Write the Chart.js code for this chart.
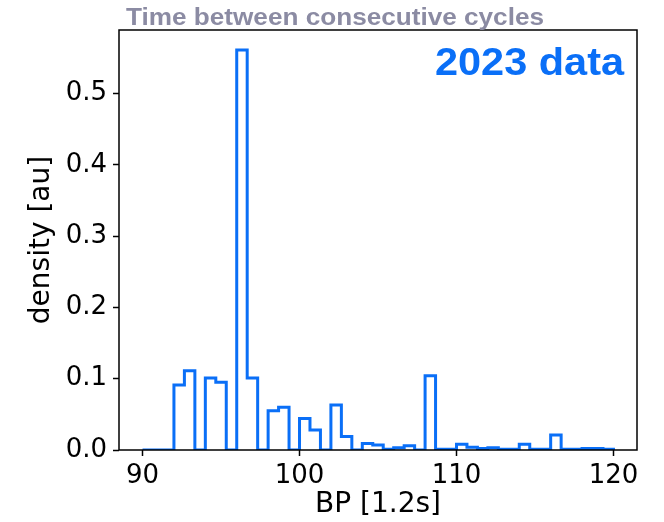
<!DOCTYPE html>
<html>
<head>
<meta charset="utf-8">
<script src="https://cdn.jsdelivr.net/npm/chart.js@4"></script>
<style>
  html, body { margin: 0; padding: 0; background: #fff; }
  #wrap { width: 664px; height: 522px; }
</style>
</head>
<body>
<div id="wrap"><canvas id="histChart" width="664" height="522"></canvas></div>
<script>
// histogram spec: 45 bins between 90 and 120
const binStart = 90;
const binEnd = 120;
const binCount = 45;
const densityValues = [
  0, 0, 0, 0.091, 0.111, 0, 0.101, 0.095, 0, 0.561,
  0.101, 0, 0.055, 0.060, 0, 0.044, 0.028, 0, 0.063, 0.019,
  0, 0.009, 0.007, 0.001, 0.003, 0.006, 0, 0.104, 0.001, 0.001,
  0.008, 0.004, 0.002, 0.003, 0.001, 0.001, 0.008, 0.001, 0.001, 0.021,
  0.001, 0.001, 0.002, 0.002, 0.001
];
const xTicks = [90, 100, 110, 120];
const yTicks = [0.0, 0.1, 0.2, 0.3, 0.4, 0.5];
const titleText = 'Time between consecutive cycles';
const tagText = '2023 data';

const blue = '#0a6ff7';

// step outline points (left bin edge, value), closed down to 0 at the end
const binWidth = (binEnd - binStart) / binCount;
const stepPoints = [{ x: binStart, y: 0 }];
densityValues.forEach((v, i) => stepPoints.push({ x: binStart + i * binWidth, y: v }));
stepPoints.push({ x: binEnd, y: 0 });

// frame + overlay texts
const framePlugin = {
  id: 'frame',
  afterDatasetsDraw(chart) {
    const { ctx, chartArea: a } = chart;
    ctx.save();
    ctx.strokeStyle = '#000';
    ctx.lineWidth = 1.5;
    ctx.strokeRect(a.left, a.top, a.right - a.left, a.bottom - a.top);
    ctx.restore();
  },
  afterDraw(chart) {
    const { ctx } = chart;
    ctx.save();
    // gray heading, slightly stretched like the source
    ctx.font = 'bold 23px "Liberation Sans", Arial, sans-serif';
    ctx.fillStyle = '#8b8ba3';
    ctx.textBaseline = 'alphabetic';
    let w = ctx.measureText(titleText).width;
    ctx.translate(126, 25);
    ctx.scale(418 / w, 1);
    ctx.fillText(titleText, 0, 0);
    ctx.restore();

    ctx.save();
    ctx.font = 'bold 39px "Liberation Sans", Arial, sans-serif';
    ctx.fillStyle = blue;
    w = ctx.measureText(tagText).width;
    ctx.translate(435, 75);
    ctx.scale(189 / w, 1);
    ctx.fillText(tagText, 0, 0);
    ctx.restore();
  }
};

const ctx = document.getElementById('histChart').getContext('2d');
const histChart = new Chart(ctx, {
  type: 'line',
  data: {
    datasets: [{
      data: stepPoints,
      stepped: 'before',
      borderColor: blue,
      borderWidth: 3,
      pointRadius: 0,
      fill: false
    }]
  },
  options: {
    responsive: false,
    animation: false,
    events: [],
    layout: { padding: { left: 0, right: 27, top: 30, bottom: 0 } },
    plugins: { legend: { display: false }, tooltip: { enabled: false } },
    scales: {
      x: {
        type: 'linear',
        min: 88.5,
        max: 121.5,
        afterBuildTicks: s => { s.ticks = xTicks.map(v => ({ value: v })); },
        afterFit: s => { s.height = 72; },
        border: { display: false },
        grid: { drawOnChartArea: false, tickLength: 6, tickColor: '#000', tickWidth: 1.5 },
        ticks: {
          color: '#000',
          padding: 5,
          maxRotation: 0,
          font: { family: '"DejaVu Sans"', size: 26 },
          callback: v => String(v)
        },
        title: {
          display: true,
          text: 'BP [1.2s]',
          color: '#000',
          font: { family: '"DejaVu Sans"', size: 28 },
          padding: { top: 0, bottom: 0 }
        }
      },
      y: {
        min: 0,
        max: 0.589,
        afterBuildTicks: s => { s.ticks = yTicks.map(v => ({ value: v })); },
        afterFit: s => { s.width = 119; },
        border: { display: false },
        grid: { drawOnChartArea: false, tickLength: 6, tickColor: '#000', tickWidth: 1.5 },
        ticks: {
          color: '#000',
          padding: 6,
          font: { family: '"DejaVu Sans"', size: 26 },
          callback: v => v.toFixed(1)
        },
        title: {
          display: true,
          text: 'density [au]',
          color: '#000',
          font: { family: '"DejaVu Sans"', size: 28 },
          padding: { top: 25, bottom: 0 }
        }
      }
    }
  },
  plugins: [framePlugin]
});
</script>
</body>
</html>
